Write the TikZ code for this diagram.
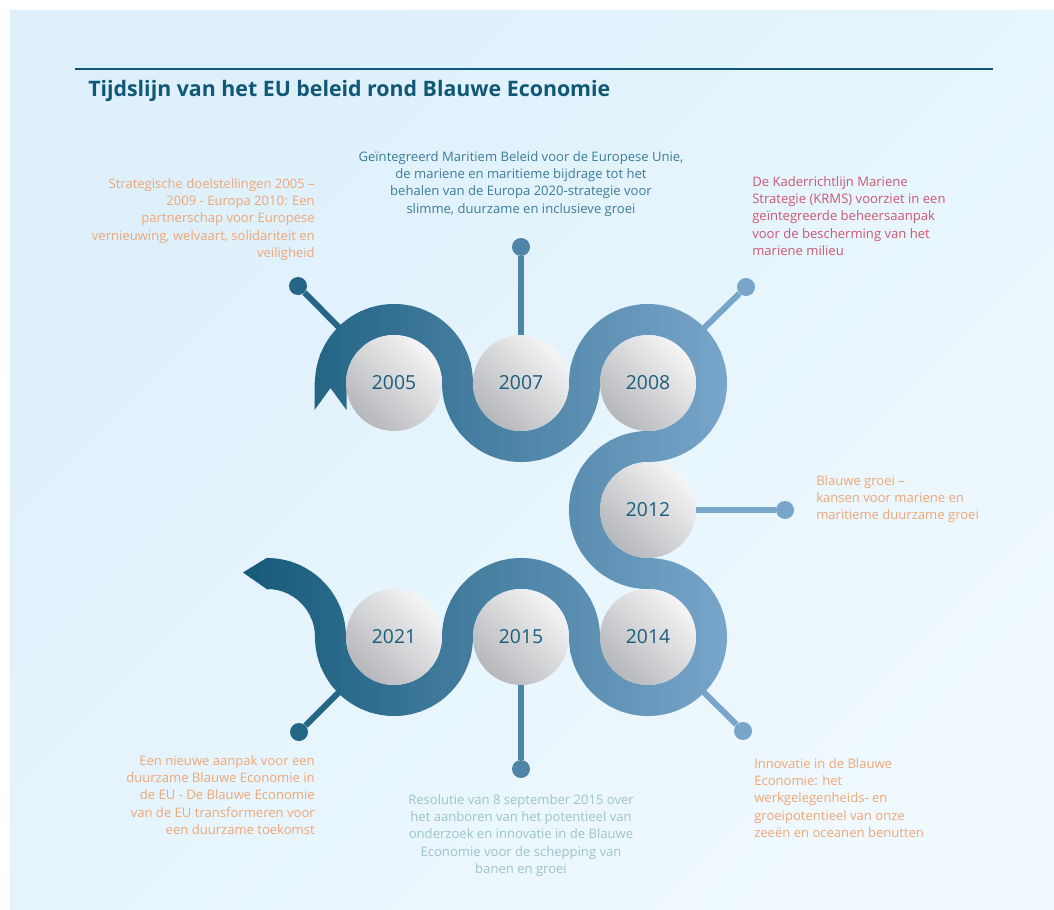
\documentclass[tikz,border=0pt]{standalone}
\usepackage{fontspec}
\setmainfont{Open Sans}
\usepackage{tikz}

\definecolor{rdark}{RGB}{22,90,121}
\definecolor{rlight}{RGB}{120,165,202}
\definecolor{ballhi}{RGB}{245,245,246}
\definecolor{balllo}{RGB}{182,183,187}
\definecolor{yeartext}{RGB}{28,92,124}
\definecolor{noteorange}{RGB}{240,166,118}
\definecolor{noteteal}{RGB}{60,124,152}
\definecolor{notered}{RGB}{204,88,112}
\definecolor{notepale}{RGB}{156,196,198}
\definecolor{titleblue}{RGB}{16,88,118}
\definecolor{panelA}{RGB}{221,240,251}
\definecolor{panelB}{RGB}{239,249,254}
\colorlet{pinleft}{rlight!15!rdark}
\colorlet{pinmid}{rlight!57!rdark}
\colorlet{pinright}{rlight}

\newcommand\ribbonline{(330.5,383)
  arc[start angle=180,end angle=360,radius=63.5]
  arc[start angle=180,end angle=0,radius=63.5]
  arc[start angle=180,end angle=450,radius=63.5]
  arc[start angle=270,end angle=90,radius=63.5]
  arc[start angle=270,end angle=540,radius=63.5]
  arc[start angle=360,end angle=180,radius=63.5]
  arc[start angle=0,end angle=180,radius=63.5]
  arc[start angle=360,end angle=270,radius=63.5]}
\newcommand\ribbontails{(314.5,382) -- (314.5,410) -- (330.5,388) -- (346.5,410) -- (346.5,382) -- cycle
  (268.5,557.75) -- (267,557.75) -- (243,572.5) -- (267,589.25) -- (268.5,589.25) -- cycle}

\begin{document}
\begin{tikzpicture}[x=0.75pt,y=-0.75pt,
    ribbon/.style={line width=23.25pt},
    year/.style={circle,minimum size=72pt,inner sep=0pt,top color=ballhi,bottom color=balllo,
      shading angle=-45,text=yeartext,font=\fontsize{14.5}{17}\selectfont},
    pindot/.style={circle,minimum size=13.5pt,inner sep=0pt},
    pinline/.style={line width=4.5pt},
    note/.style={inner sep=0pt,font=\fontsize{9.8}{13}\selectfont}]
  \useasboundingbox (0,0) rectangle (1054,910);
  \fill[white] (0,0) rectangle (1054,910);
  \shade[top color=panelA,bottom color=panelB,shading angle=45] (10,10) rectangle (1054,910);

  \draw[titleblue,line width=1.1pt] (75,69) -- (993,69);
  \node[anchor=base west,inner sep=0pt,text=titleblue,font=\bfseries\fontsize{16}{19}\selectfont] (title) at (88,96)
    {Tijdslijn van het EU beleid rond Blauwe Economie};

  \coordinate (c2005) at (394,383);
  \coordinate (c2007) at (521,383);
  \coordinate (c2008) at (648,383);
  \coordinate (c2012) at (648,510);
  \coordinate (c2014) at (648,637);
  \coordinate (c2015) at (521,637);
  \coordinate (c2021) at (394,637);

  \node[pindot,fill=pinleft] (d2005) at (298,286) {};
  \node[pindot,fill=pinmid] (d2007) at (521,247) {};
  \node[pindot,fill=pinright] (d2008) at (746,287) {};
  \node[pindot,fill=pinright] (d2012) at (785,510) {};
  \node[pindot,fill=pinright] (d2014) at (743,731) {};
  \node[pindot,fill=pinmid] (d2015) at (521,769) {};
  \node[pindot,fill=pinleft] (d2021) at (299,732) {};
  \draw[pinline,pinleft] (c2005) -- (d2005);
  \draw[pinline,pinmid] (c2007) -- (d2007);
  \draw[pinline,pinright] (c2008) -- (d2008);
  \draw[pinline,pinright] (c2012) -- (d2012);
  \draw[pinline,pinright] (c2014) -- (d2014);
  \draw[pinline,pinmid] (c2015) -- (d2015);
  \draw[pinline,pinleft] (c2021) -- (d2021);

  \foreach \i in {0,...,48} {
    \pgfmathsetmacro\mix{100*\i/48}
    \begin{scope}
      \clip (240+10*\i,250) rectangle (251+10*\i,720);
      \draw[ribbon,rlight!\mix!rdark] \ribbonline;
      \fill[rlight!\mix!rdark] \ribbontails;
    \end{scope}
  }

  \node[year] (y2005) at (c2005) {2005};
  \node[year] (y2007) at (c2007) {2007};
  \node[year] (y2008) at (c2008) {2008};
  \node[year] (y2012) at (c2012) {2012};
  \node[year] (y2014) at (c2014) {2014};
  \node[year] (y2015) at (c2015) {2015};
  \node[year] (y2021) at (c2021) {2021};

  \node[note,anchor=north east,align=right,text=noteorange] (t2005) at (315,178)
    {Strategische doelstellingen 2005 –\\2009 - Europa 2010: Een\\partnerschap voor Europese\\vernieuwing, welvaart, solidariteit en\\veiligheid};
  \node[note,anchor=north,align=center,text=noteteal] (t2007) at (521,151)
    {Geïntegreerd Maritiem Beleid voor de Europese Unie,\\de mariene en maritieme bijdrage tot het\\behalen van de Europa 2020-strategie voor\\slimme, duurzame en inclusieve groei};
  \node[note,anchor=north west,align=left,text=notered] (t2008) at (752,176)
    {De Kaderrichtlijn Mariene\\Strategie (KRMS) voorziet in een\\geïntegreerde beheersaanpak\\voor de bescherming van het\\mariene milieu};
  \node[note,anchor=north west,align=left,text=noteorange] (t2012) at (816,475)
    {Blauwe groei –\\kansen voor mariene en\\maritieme duurzame groei};
  \node[note,anchor=north west,align=left,text=noteorange] (t2014) at (754,758)
    {Innovatie in de Blauwe\\Economie: het\\werkgelegenheids- en\\groeipotentieel van onze\\zeeën en oceanen benutten};
  \node[note,anchor=north,align=center,text=notepale] (t2015) at (521,794)
    {Resolutie van 8 september 2015 over\\het aanboren van het potentieel van\\onderzoek en innovatie in de Blauwe\\Economie voor de schepping van\\banen en groei};
  \node[note,anchor=north east,align=right,text=noteorange] (t2021) at (315,755)
    {Een nieuwe aanpak voor een\\duurzame Blauwe Economie in\\de EU - De Blauwe Economie\\van de EU transformeren voor\\een duurzame toekomst};
\end{tikzpicture}
\end{document}
